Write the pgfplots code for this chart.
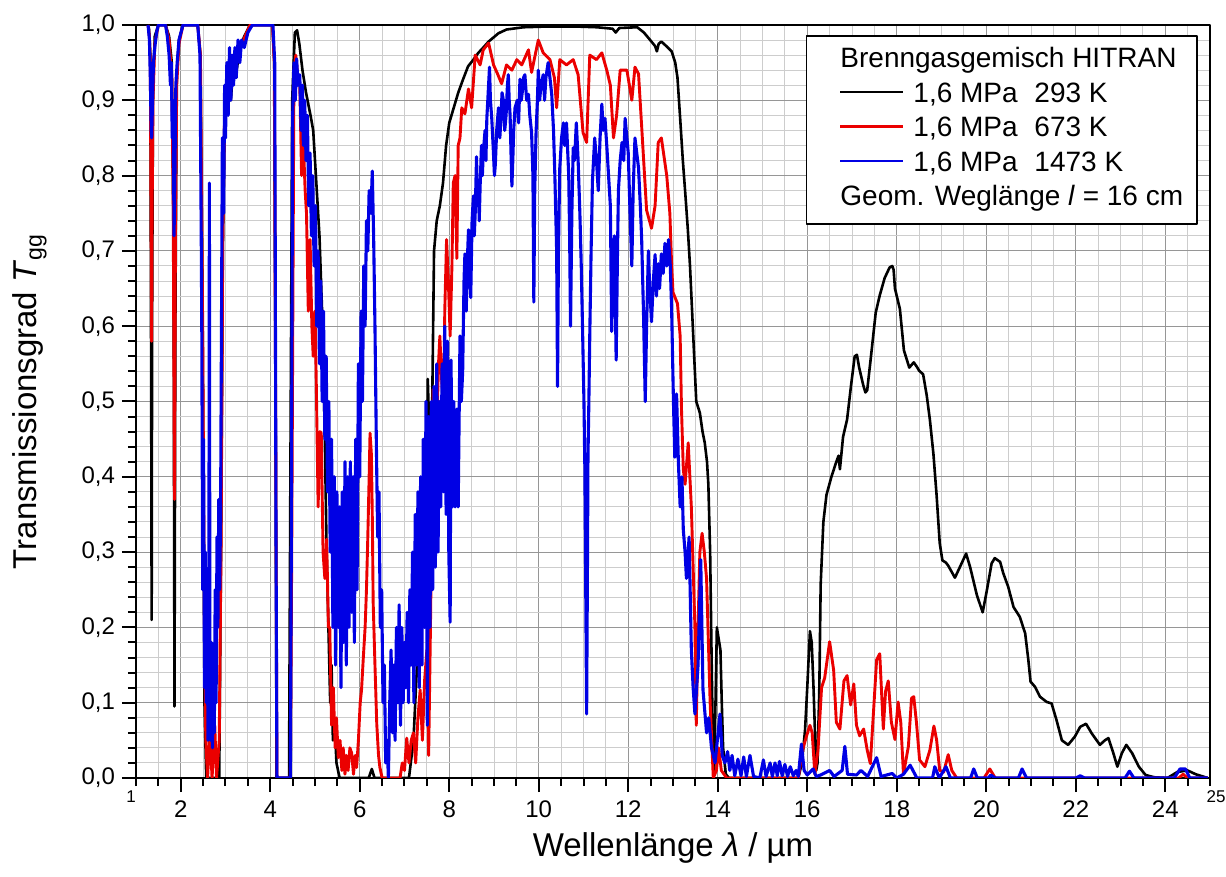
\documentclass[border=0pt]{standalone}
\usepackage{pgfplots}
\pgfplotsset{compat=1.18}
\usepackage{fontspec}
\setmainfont{Liberation Sans}
\definecolor{cred}{RGB}{235,0,0}
\definecolor{cblue}{RGB}{0,0,228}
\definecolor{gmaj}{RGB}{150,150,150}
\definecolor{gmin}{RGB}{205,205,205}
\begin{document}
\begin{tikzpicture}
\begin{axis}[
  scale only axis, width=537pt, height=376.5pt,
  xmin=1, xmax=25, ymin=0, ymax=1,
  xtick={2,4,6,8,10,12,14,16,18,20,22,24},
  xticklabels={2,4,6,8,10,12,14,16,18,20,22,24},
  ytick={0,0.1,0.2,0.3,0.4,0.5,0.6,0.7,0.8,0.9,1.0},
  yticklabels={{0,0},{0,1},{0,2},{0,3},{0,4},{0,5},{0,6},{0,7},{0,8},{0,9},{1,0}},
  minor xtick={1,1.5,...,25},
  minor ytick={0,0.02,...,1.001},
  grid=both,
  major grid style={gmaj, line width=0.5pt},
  minor grid style={gmin, line width=0.5pt},
  tick align=outside, xtick pos=bottom, ytick pos=left,
  major tick length=7pt, minor tick length=4pt,
  every tick/.style={black, line width=1pt},
  axis line style={line width=1.4pt},
  ticklabel style={font=\fontsize{12}{14}\selectfont},
  xticklabel style={yshift=-1pt},
  label style={font=\fontsize{16.5}{19}\selectfont},
  xlabel={Wellenlänge \textit{λ} / µm},
  ylabel={Transmissionsgrad \textit{T}\textsubscript{gg}},
  xlabel style={at={(axis description cs:0.5,0)}, anchor=center, yshift=-35pt},
  ylabel style={at={(axis description cs:-0.099,0.5)}, anchor=center},
  line join=round,
]
\addplot[black, line width=1.3pt] table {
x y
1.27 1.0
1.29 0.995
1.32 0.96
1.34 0.5
1.35 0.21
1.36 0.6
1.38 0.92
1.42 0.985
1.5 1.0
1.66 1.0
1.74 0.985
1.8 0.95
1.84 0.7
1.86 0.095
1.88 0.6
1.91 0.93
1.96 0.98
2.05 1.0
2.38 1.0
2.44 0.96
2.49 0.6
2.53 0.1
2.57 0.0
2.86 0.0
2.9 0.3
2.94 0.7
2.98 0.87
3.05 0.93
3.12 0.9
3.18 0.95
3.25 0.94
3.32 0.97
3.42 0.985
3.55 1.0
4.05 1.0
4.09 0.95
4.12 0.5
4.14 0.0
4.42 0.0
4.45 0.4
4.49 0.9
4.55 0.99
4.6 0.993
4.65 0.975
4.72 0.94
4.8 0.91
4.9 0.88
4.96 0.86
5.02 0.8
5.1 0.72
5.17 0.6
5.22 0.45
5.26 0.3
5.3 0.2
5.34 0.1
5.37 0.15
5.4 0.05
5.44 0.07
5.48 0.02
5.55 0.0
6.2 0.0
6.27 0.012
6.33 0.0
7.1 0.0
7.2 0.05
7.28 0.15
7.34 0.23
7.4 0.33
7.45 0.28
7.49 0.36
7.52 0.53
7.56 0.45
7.62 0.5
7.66 0.7
7.72 0.74
7.79 0.76
7.86 0.79
7.93 0.84
8.0 0.87
8.1 0.89
8.2 0.91
8.31 0.928
8.42 0.945
8.54 0.954
8.65 0.963
8.76 0.97
8.88 0.978
8.98 0.983
9.1 0.989
9.28 0.994
9.66 0.997
10.2 0.998
10.8 0.998
11.3 0.997
11.65 0.995
11.72 0.99
11.8 0.996
12.2 0.997
12.35 0.99
12.49 0.98
12.6 0.972
12.64 0.965
12.68 0.975
12.74 0.978
12.85 0.972
12.97 0.965
13.05 0.95
13.1 0.93
13.16 0.876
13.22 0.82
13.27 0.78
13.33 0.73
13.38 0.68
13.45 0.59
13.52 0.5
13.6 0.485
13.66 0.46
13.71 0.445
13.76 0.42
13.79 0.39
13.83 0.3
13.86 0.17
13.89 0.05
13.92 0.01
13.95 0.1
13.98 0.2
14.02 0.185
14.06 0.17
14.09 0.1
14.12 0.04
14.18 0.005
14.25 0.0
15.8 0.0
15.88 0.02
15.95 0.063
16.0 0.12
16.06 0.195
16.1 0.18
16.14 0.12
16.17 0.065
16.2 0.01
16.23 0.02
16.27 0.12
16.3 0.257
16.36 0.34
16.43 0.376
16.54 0.4
16.65 0.42
16.7 0.428
16.73 0.41
16.8 0.453
16.89 0.476
16.98 0.522
17.06 0.56
17.11 0.562
17.16 0.545
17.25 0.522
17.3 0.512
17.34 0.515
17.43 0.563
17.53 0.618
17.62 0.641
17.73 0.664
17.84 0.678
17.9 0.68
17.93 0.675
17.96 0.65
18.07 0.623
18.16 0.568
18.28 0.545
18.38 0.552
18.45 0.546
18.5 0.541
18.59 0.536
18.67 0.508
18.74 0.476
18.82 0.43
18.89 0.376
18.96 0.312
19.02 0.289
19.1 0.286
19.15 0.282
19.3 0.266
19.41 0.28
19.55 0.298
19.64 0.28
19.79 0.243
19.92 0.22
20.01 0.248
20.12 0.285
20.19 0.292
20.31 0.287
20.38 0.272
20.49 0.254
20.61 0.227
20.75 0.214
20.87 0.192
20.94 0.157
20.99 0.128
21.09 0.121
21.2 0.108
21.35 0.101
21.46 0.099
21.57 0.077
21.69 0.05
21.83 0.044
21.98 0.055
22.1 0.068
22.23 0.072
22.36 0.059
22.54 0.044
22.65 0.05
22.73 0.053
22.84 0.033
22.93 0.015
23.03 0.033
23.13 0.044
23.26 0.033
23.41 0.015
23.56 0.004
23.75 0.001
24.05 0.0
24.27 0.008
24.5 0.01
24.68 0.005
24.95 0.0
};
\addplot[cred, line width=1.45pt] table {
x y
1.27 1.0
1.3 0.985
1.32 0.95
1.34 0.7
1.35 0.58
1.36 0.75
1.38 0.9
1.42 0.975
1.5 1.0
1.66 1.0
1.74 0.98
1.8 0.93
1.83 0.78
1.86 0.37
1.88 0.7
1.91 0.92
1.96 0.975
2.05 1.0
2.38 1.0
2.44 0.96
2.49 0.6
2.53 0.2
2.56 0.05
2.6 0.0
2.65 0.06
2.7 0.0
2.76 0.07
2.8 0.0
2.86 0.05
2.9 0.3
2.94 0.72
2.98 0.88
3.04 0.93
3.12 0.95
3.2 0.96
3.3 0.965
3.4 0.98
3.55 1.0
4.05 1.0
4.09 0.95
4.12 0.5
4.15 0.0
4.45 0.0
4.48 0.3
4.53 0.94
4.57 0.96
4.62 0.93
4.66 0.92
4.70 0.8
4.74 0.845
4.78 0.78
4.81 0.75
4.85 0.62
4.89 0.715
4.93 0.6
4.96 0.56
5.00 0.62
5.03 0.52
5.07 0.36
5.11 0.46
5.14 0.458
5.18 0.3
5.22 0.265
5.26 0.317
5.30 0.2
5.33 0.2
5.37 0.07
5.41 0.12
5.45 0.04
5.48 0.08
5.52 0.027
5.56 0.05
5.60 0.01
5.63 0.04
5.67 0.005
5.70 0.03
5.74 0.01
5.78 0.04
5.82 0.033
5.86 0.005
5.90 0.03
5.93 0.014
5.97 0.05
6.01 0.1
6.04 0.117
6.08 0.16
6.12 0.2
6.15 0.25
6.18 0.32
6.21 0.4
6.23 0.458
6.26 0.43
6.28 0.35
6.30 0.233
6.34 0.15
6.38 0.072
6.42 0.03
6.45 0.014
6.50 0.0
6.90 0.0
6.95 0.02
7.00 0.01
7.05 0.053
7.10 0.02
7.15 0.05
7.20 0.06
7.25 0.02
7.30 0.08
7.35 0.117
7.40 0.05
7.45 0.13
7.50 0.17
7.54 0.03
7.58 0.2
7.61 0.35
7.64 0.516
7.68 0.45
7.72 0.458
7.76 0.55
7.79 0.587
7.83 0.53
7.87 0.49
7.90 0.62
7.94 0.715
7.98 0.66
8.02 0.587
8.06 0.68
8.09 0.79
8.13 0.8
8.17 0.69
8.20 0.84
8.24 0.85
8.28 0.89
8.35 0.882
8.43 0.915
8.50 0.89
8.58 0.96
8.69 0.947
8.76 0.967
8.88 0.976
8.99 0.947
9.08 0.935
9.17 0.922
9.28 0.947
9.40 0.94
9.51 0.954
9.62 0.947
9.77 0.967
9.84 0.937
9.92 0.96
9.99 0.98
10.10 0.963
10.25 0.954
10.35 0.93
10.40 0.89
10.47 0.954
10.62 0.947
10.77 0.954
10.88 0.934
10.99 0.857
11.07 0.844
11.14 0.96
11.29 0.954
11.41 0.963
11.52 0.94
11.60 0.92
11.67 0.85
11.74 0.88
11.82 0.94
11.97 0.94
12.08 0.90
12.15 0.944
12.23 0.935
12.30 0.865
12.41 0.754
12.52 0.73
12.60 0.76
12.67 0.844
12.74 0.85
12.86 0.80
12.93 0.75
12.97 0.68
13.00 0.645
13.10 0.63
13.16 0.587
13.19 0.49
13.23 0.41
13.27 0.39
13.34 0.445
13.41 0.36
13.49 0.2
13.52 0.07
13.56 0.2
13.60 0.30
13.65 0.325
13.70 0.30
13.75 0.265
13.83 0.10
13.90 0.0
13.97 0.01
14.02 0.04
14.08 0.01
14.2 0.0
15.8 0.0
15.85 0.02
15.91 0.04
15.98 0.055
16.06 0.07
16.11 0.06
16.17 0.005
16.24 0.037
16.32 0.12
16.39 0.133
16.5 0.181
16.59 0.143
16.65 0.074
16.73 0.065
16.82 0.129
16.89 0.136
16.97 0.097
17.04 0.125
17.1 0.07
17.17 0.056
17.26 0.065
17.34 0.037
17.41 0.019
17.49 0.097
17.55 0.157
17.62 0.165
17.7 0.065
17.75 0.115
17.81 0.129
17.88 0.074
17.96 0.051
18.03 0.101
18.09 0.074
18.15 0.005
18.26 0.042
18.33 0.106
18.38 0.108
18.44 0.074
18.51 0.024
18.63 0.015
18.74 0.037
18.83 0.069
18.89 0.051
18.96 0.01
19.05 0.008
19.15 0.031
19.23 0.01
19.34 0.0
19.95 0.0
20.08 0.012
20.2 0.0
24.3 0.0
24.4 0.005
24.5 0.0
24.95 0.0
};
\addplot[cblue, line width=1.55pt] table {
x y
1.27 1.0
1.3 0.98
1.32 0.93
1.34 0.86
1.35 0.85
1.37 0.9
1.39 0.95
1.42 0.97
1.46 0.99
1.5 1.0
1.66 1.0
1.7 0.985
1.74 0.96
1.77 0.92
1.79 0.95
1.81 0.85
1.83 0.9
1.85 0.72
1.87 0.8
1.89 0.92
1.92 0.95
1.96 0.98
2.05 1.0
2.38 1.0
2.43 0.96
2.46 0.7
2.47 0.6
2.49 0.25
2.51 0.45
2.53 0.12
2.55 0.3
2.57 0.1
2.59 0.22
2.61 0.05
2.63 0.3
2.64 0.79
2.65 0.2
2.67 0.05
2.69 0.18
2.71 0.04
2.73 0.15
2.75 0.06
2.77 0.25
2.79 0.1
2.81 0.32
2.83 0.2
2.85 0.37
2.87 0.25
2.89 0.35
2.91 0.6
2.93 0.85
2.96 0.75
2.98 0.92
3.0 0.85
3.03 0.95
3.06 0.88
3.09 0.97
3.12 0.9
3.15 0.96
3.18 0.92
3.21 0.97
3.24 0.93
3.28 0.98
3.32 0.95
3.36 0.98
3.42 0.97
3.5 0.99
3.6 1.0
4.06 1.0
4.1 0.95
4.13 0.3
4.15 0.0
4.45 0.0
4.47 0.3
4.50 0.876
4.53 0.95
4.56 0.90
4.59 0.955
4.62 0.92
4.66 0.934
4.69 0.86
4.72 0.92
4.74 0.84
4.77 0.9
4.80 0.82
4.83 0.88
4.86 0.76
4.89 0.83
4.92 0.72
4.95 0.8
4.98 0.68
5.01 0.76
5.04 0.6
5.07 0.7
5.10 0.55
5.13 0.66
5.16 0.5
5.19 0.62
5.22 0.45
5.25 0.56
5.28 0.38
5.31 0.5
5.34 0.3
5.37 0.45
5.40 0.2
5.43 0.4
5.46 0.15
5.49 0.38
5.52 0.2
5.55 0.36
5.58 0.12
5.61 0.38
5.64 0.18
5.67 0.42
5.70 0.15
5.73 0.4
5.76 0.2
5.79 0.42
5.82 0.22
5.85 0.4
5.88 0.18
5.91 0.45
5.94 0.25
5.97 0.55
6.00 0.4
6.03 0.62
6.06 0.5
6.09 0.68
6.12 0.6
6.15 0.74
6.18 0.7
6.21 0.78
6.25 0.75
6.28 0.806
6.31 0.72
6.34 0.6
6.37 0.45
6.40 0.32
6.43 0.38
6.46 0.2
6.49 0.25
6.52 0.1
6.55 0.15
6.58 0.02
6.61 0.05
6.64 0.0
6.67 0.1
6.70 0.17
6.73 0.06
6.76 0.15
6.79 0.05
6.82 0.2
6.85 0.1
6.88 0.23
6.91 0.07
6.94 0.2
6.97 0.1
7.00 0.18
7.03 0.12
7.06 0.22
7.09 0.1
7.12 0.25
7.15 0.15
7.18 0.3
7.21 0.1
7.24 0.35
7.27 0.15
7.30 0.38
7.33 0.12
7.36 0.4
7.39 0.15
7.42 0.45
7.45 0.2
7.48 0.5
7.51 0.07
7.54 0.48
7.57 0.2
7.60 0.5
7.63 0.25
7.66 0.52
7.69 0.28
7.72 0.55
7.75 0.3
7.78 0.5
7.81 0.36
7.84 0.55
7.87 0.38
7.90 0.6
7.93 0.35
7.96 0.58
7.99 0.3
8.02 0.207
8.04 0.555
8.07 0.36
8.10 0.5
8.13 0.36
8.17 0.49
8.20 0.36
8.24 0.587
8.27 0.5
8.30 0.54
8.33 0.66
8.35 0.696
8.38 0.62
8.40 0.68
8.43 0.728
8.46 0.66
8.48 0.638
8.51 0.74
8.54 0.773
8.56 0.72
8.58 0.75
8.61 0.825
8.63 0.76
8.65 0.79
8.67 0.74
8.69 0.786
8.72 0.84
8.74 0.8
8.76 0.83
8.80 0.86
8.82 0.82
8.84 0.876
8.87 0.91
8.90 0.944
8.92 0.9
8.95 0.876
8.98 0.84
9.01 0.8
9.03 0.815
9.06 0.86
9.10 0.89
9.13 0.85
9.15 0.87
9.18 0.91
9.21 0.9
9.24 0.86
9.27 0.88
9.30 0.92
9.32 0.934
9.34 0.9
9.36 0.88
9.38 0.83
9.40 0.786
9.42 0.82
9.44 0.86
9.47 0.89
9.52 0.9
9.55 0.87
9.58 0.928
9.61 0.9
9.63 0.91
9.66 0.93
9.69 0.934
9.73 0.9
9.77 0.908
9.80 0.88
9.84 0.857
9.87 0.8
9.89 0.632
9.91 0.78
9.94 0.857
9.97 0.9
9.99 0.94
10.02 0.9
10.05 0.92
10.10 0.934
10.13 0.9
10.16 0.93
10.21 0.95
10.25 0.93
10.29 0.908
10.33 0.86
10.36 0.8
10.40 0.7
10.42 0.52
10.44 0.7
10.47 0.81
10.51 0.85
10.55 0.87
10.58 0.84
10.62 0.87
10.67 0.8
10.69 0.72
10.71 0.6
10.74 0.75
10.77 0.837
10.80 0.82
10.84 0.87
10.88 0.82
10.92 0.748
10.95 0.68
10.98 0.593
11.01 0.5
11.03 0.413
11.05 0.25
11.07 0.085
11.09 0.3
11.10 0.426
11.12 0.5
11.14 0.587
11.17 0.7
11.20 0.793
11.25 0.85
11.29 0.82
11.33 0.78
11.37 0.85
11.41 0.895
11.44 0.86
11.48 0.876
11.52 0.84
11.55 0.81
11.60 0.76
11.63 0.593
11.66 0.68
11.69 0.72
11.73 0.555
11.76 0.7
11.78 0.78
11.82 0.82
11.86 0.844
11.90 0.82
11.93 0.876
11.97 0.85
12.00 0.83
12.04 0.75
12.08 0.68
12.11 0.78
12.15 0.85
12.19 0.83
12.23 0.81
12.27 0.76
12.30 0.715
12.34 0.62
12.38 0.50
12.41 0.6
12.45 0.70
12.48 0.65
12.52 0.606
12.56 0.66
12.60 0.695
12.63 0.64
12.67 0.683
12.70 0.65
12.74 0.696
12.78 0.67
12.82 0.71
12.86 0.68
12.90 0.715
12.94 0.68
12.97 0.62
13.01 0.5
13.04 0.426
13.08 0.51
13.12 0.42
13.16 0.36
13.2 0.4
13.23 0.33
13.27 0.3
13.30 0.265
13.36 0.32
13.41 0.17
13.45 0.12
13.49 0.085
13.56 0.15
13.62 0.29
13.67 0.117
13.75 0.06
13.80 0.08
13.86 0.04
13.94 0.02
14.05 0.085
14.10 0.03
14.16 0.02
14.22 0.035
14.27 0.01
14.32 0.03
14.38 0.003
14.45 0.025
14.52 0.003
14.58 0.028
14.64 0.002
14.72 0.03
14.8 0.002
14.94 0.0
15.02 0.024
15.08 0.002
15.17 0.02
15.22 0.002
15.28 0.02
15.33 0.003
15.38 0.022
15.44 0.003
15.5 0.018
15.56 0.002
15.62 0.015
15.69 0.003
15.75 0.01
15.8 0.002
15.87 0.045
15.93 0.01
16.0 0.004
16.13 0.012
16.2 0.002
16.3 0.004
16.5 0.01
16.6 0.002
16.78 0.01
16.84 0.042
16.9 0.005
17.1 0.004
17.2 0.01
17.35 0.002
17.55 0.027
17.65 0.002
17.9 0.006
18.0 0.0
18.15 0.005
18.3 0.017
18.45 0.0
18.8 0.0
18.85 0.015
18.95 0.0
19.1 0.015
19.2 0.0
19.65 0.0
19.72 0.012
19.8 0.0
20.05 0.0
20.1 0.004
20.2 0.0
20.72 0.0
20.8 0.012
20.9 0.0
22.0 0.0
22.1 0.003
22.2 0.0
23.1 0.0
23.2 0.009
23.3 0.0
24.2 0.0
24.33 0.012
24.45 0.012
24.55 0.0
24.95 0.0
};
\node[draw=black, line width=0.8pt, fill=white, anchor=north east, inner xsep=0pt, inner ysep=4pt,
      font=\fontsize{14}{17.25}\selectfont]
  at (rel axis cs:1,1) [xshift=-6pt, yshift=-5pt] {%
  \def\arraystretch{1}%
  \begin{tabular}{@{\hspace{17pt}}l@{\hspace{7pt}}}
  \makebox[171pt][l]{Brenngasgemisch HITRAN}\\
  {\color{black}\rule[0.33em]{31.5pt}{1.2pt}}\hspace{5pt}1,6 MPa\hspace{0.6em}293 K\\
  {\color{cred}\rule[0.33em]{31.5pt}{1.2pt}}\hspace{5pt}1,6 MPa\hspace{0.6em}673 K\\
  {\color{cblue}\rule[0.33em]{31.5pt}{1.2pt}}\hspace{5pt}1,6 MPa\hspace{0.6em}1473 K\\
  Geom. Weglänge \textit{l} = 16 cm
  \end{tabular}};
\end{axis}
\node[font=\fontsize{8.5}{10}\selectfont] at ([xshift=-2.5pt,yshift=-9.5pt]current axis.south west) {1};
\node[font=\fontsize{8.5}{10}\selectfont] at ([xshift=3pt,yshift=-9.5pt]current axis.south east) {25};
\pgfresetboundingbox
\path ([xshift=-68pt,yshift=-49.5pt]current axis.south west) rectangle ([xshift=8pt,yshift=12.5pt]current axis.north east);
\end{tikzpicture}
\end{document}
